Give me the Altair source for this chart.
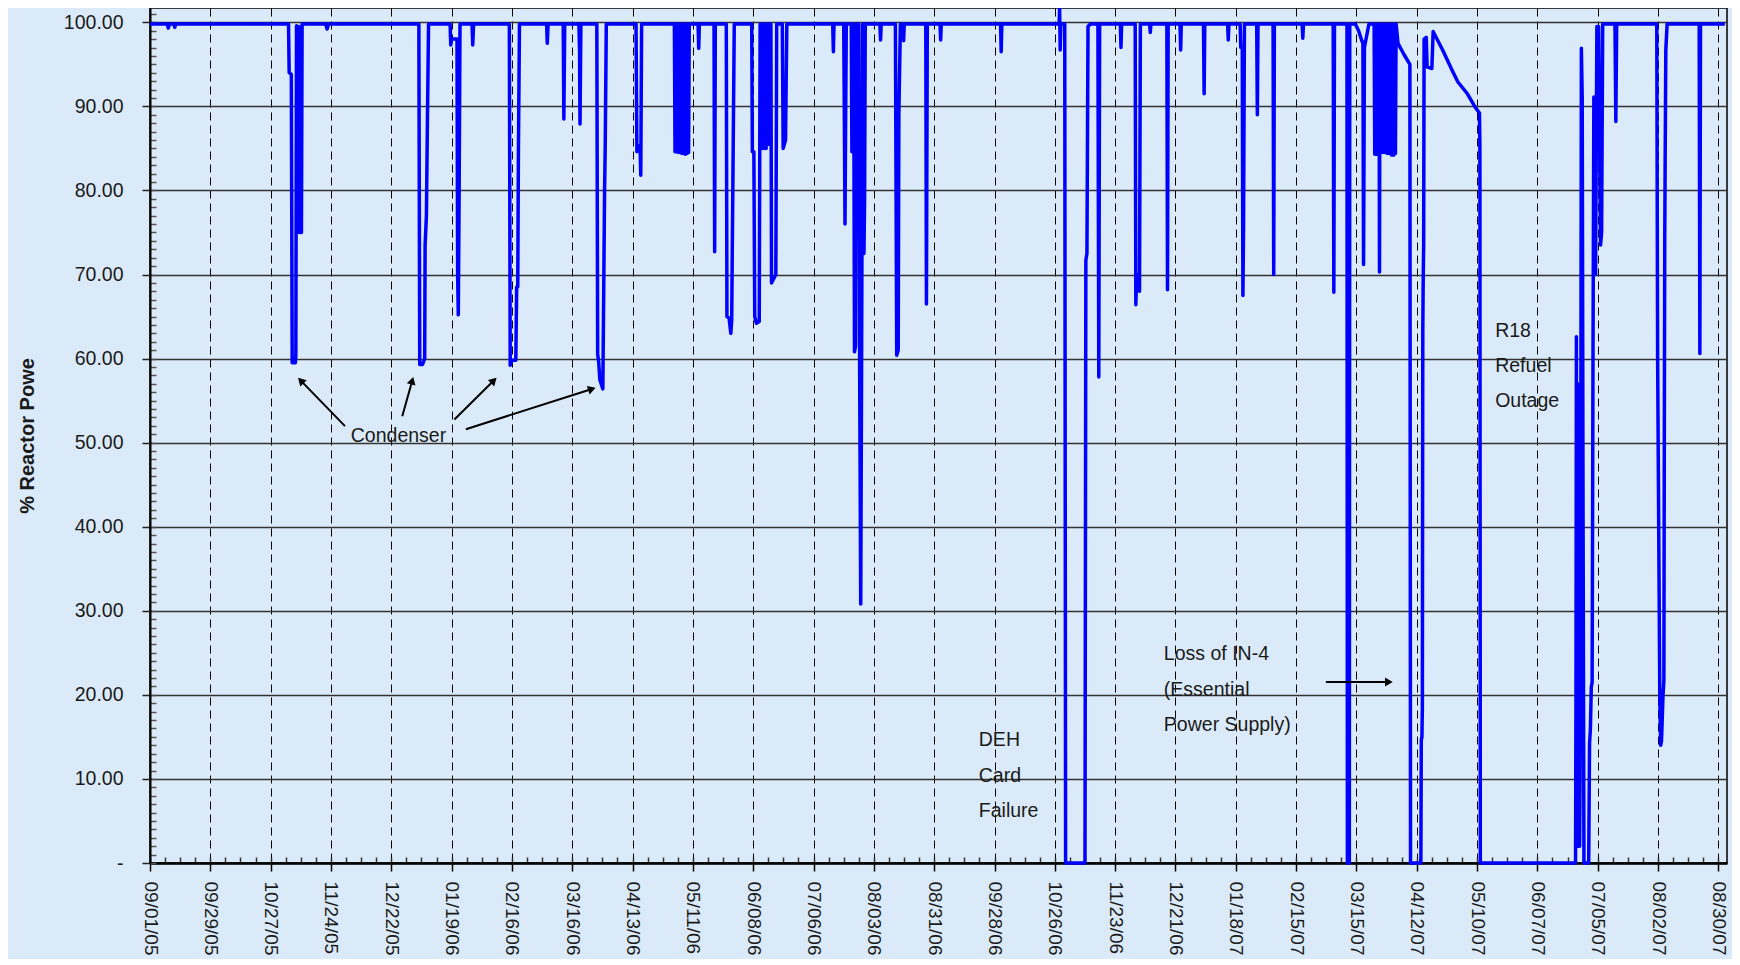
import math
import altair as alt
import pandas as pd

# ---------------- data (day offset from 09/01/05, % reactor power) ----------------
TICK_LABELS = ["09/01/05", "09/29/05", "10/27/05", "11/24/05", "12/22/05", "01/19/06",
               "02/16/06", "03/16/06", "04/13/06", "05/11/06", "06/08/06", "07/06/06",
               "08/03/06", "08/31/06", "09/28/06", "10/26/06", "11/23/06", "12/21/06",
               "01/18/07", "02/15/07", "03/15/07", "04/12/07", "05/10/07", "06/07/07",
               "07/05/07", "08/02/07", "08/30/07"]
Y_TICKS = [0, 10, 20, 30, 40, 50, 60, 70, 80, 90, 100]

SEG_2005 = [
    (0, 99.8), (8.0, 99.8), (8.5, 99.3), (9.0, 99.8), (11.0, 99.8), (11.5, 99.4), (12.0, 99.8),
    (64.3, 99.8), (64.6, 94.0), (65.6, 93.8), (66.0, 59.5), (67.5, 59.5), (67.7, 60.5),
    (68.0, 99.6), (68.5, 75.0), (69.0, 99.5), (69.5, 75.0), (70.3, 75.0), (70.6, 99.8),
    (81.6, 99.8), (82.2, 99.2), (82.9, 99.8),
    (124.8, 99.8), (125.2, 59.3), (126.5, 59.3), (127.5, 60.0), (127.7, 73.5), (128.3, 77.0),
    (128.8, 89.0), (129.3, 99.8),
]
SEG_EARLY_2006 = [
    (139.3, 99.8), (139.6, 97.3), (140.0, 98.0), (142.5, 98.0), (142.8, 70.0), (143.1, 65.2),
    (143.5, 80.0), (143.9, 99.8), (149.5, 99.8), (149.8, 97.3), (150.2, 99.8),
    (166.8, 99.8), (167.2, 59.2), (168.0, 59.8), (169.8, 59.8), (170.2, 68.5), (170.7, 68.5),
    (171.0, 84.4), (171.5, 99.8), (184.1, 99.8), (184.4, 97.5), (184.8, 99.8),
    (191.8, 99.8), (192.1, 88.5), (192.5, 99.8), (199.1, 99.8), (199.4, 96.5), (199.6, 87.9),
    (200.0, 99.8), (207.4, 99.8), (207.8, 60.5), (208.3, 59.5), (208.8, 57.5), (210.2, 56.4),
    (210.5, 65.0), (211.0, 80.0), (211.3, 85.2), (211.8, 99.8),
    (225.6, 99.8), (226.0, 84.6), (227.0, 85.3), (227.5, 85.0), (227.8, 81.8), (228.2, 99.8),
]
SEG_MID_2006 = [
    (243.4, 99.8), (243.7, 84.6), (244.1, 99.8), (244.5, 84.6), (244.9, 99.8), (245.3, 84.5),
    (245.7, 99.8), (246.1, 84.5), (246.5, 99.8), (246.9, 84.4), (247.3, 99.8), (247.7, 84.4),
    (248.1, 99.8), (248.5, 84.3), (248.9, 99.8), (249.3, 84.4), (249.7, 99.6), (250.0, 84.5),
    (250.3, 99.8), (254.4, 99.8), (254.7, 96.9), (255.0, 99.8),
    (261.8, 99.8), (262.1, 72.7), (262.4, 99.8),
    (267.5, 99.8), (267.8, 65.0), (268.8, 64.8), (269.6, 63.0), (270.0, 64.5), (271.2, 99.8),
    (279.3, 99.8), (279.6, 84.6), (280.3, 84.6), (280.7, 65.0), (281.5, 64.2), (282.8, 64.4),
    (283.2, 99.8), (283.6, 85.0), (284.0, 99.8), (284.4, 85.0), (284.8, 99.8), (285.2, 85.0),
    (285.6, 99.8), (286.0, 85.0), (286.4, 99.8), (286.8, 85.5), (287.2, 99.8), (287.8, 85.5),
    (288.2, 99.8), (288.5, 69.0), (290.5, 70.0), (290.9, 99.8),
    (293.5, 99.8), (293.9, 85.0), (295.0, 86.0), (295.6, 99.8),
    (316.9, 99.8), (317.2, 96.5), (317.5, 99.8),
    (322.0, 99.8), (322.3, 88.5), (322.6, 76.0), (322.9, 88.5), (323.2, 99.8),
    (325.5, 99.8), (325.8, 84.6), (326.2, 99.8), (326.6, 99.8), (327.0, 60.8), (327.5, 61.5),
    (327.8, 99.8), (329.0, 99.8), (329.4, 58.6), (329.9, 30.8), (330.3, 58.6), (330.8, 99.8),
    (331.0, 99.8), (331.4, 72.5), (331.7, 79.0), (332.0, 99.8),
]
SEG_LATE_2006 = [
    (338.8, 99.8), (339.1, 97.9), (339.4, 99.8),
    (346.0, 99.8), (346.6, 60.4), (347.3, 61.0), (347.6, 89.0), (348.3, 99.8),
    (349.5, 99.8), (349.8, 97.8), (350.1, 99.8),
    (360.1, 99.8), (360.4, 66.5), (360.8, 99.8), (366.7, 99.8), (367.0, 97.9), (367.3, 99.8),
    (394.8, 99.8), (395.1, 96.5), (395.4, 99.8),
    (422.0, 99.8), (422.2, 101.7), (422.5, 96.7), (422.8, 99.8),
    (424.6, 99.8), (425.0, 0.0), (434.0, 0.0), (434.4, 71.7), (434.9, 72.5), (435.4, 99.5),
    (436.5, 99.8), (440.0, 99.8), (440.4, 57.8), (440.8, 99.8),
    (450.4, 99.8), (450.7, 97.0), (451.0, 99.8),
    (457.3, 99.8), (457.6, 66.4), (458.0, 70.0), (459.3, 68.0), (459.7, 99.8),
    (464.0, 99.8), (464.3, 98.8), (464.6, 99.8), (472.0, 99.8), (472.3, 68.2), (472.6, 99.8),
    (478.1, 99.8), (478.4, 96.7), (478.7, 99.8),
]
SEG_EARLY_2007 = [
    (489.0, 99.8), (489.3, 91.5), (489.6, 99.8), (500.2, 99.8), (500.5, 97.9), (500.8, 99.8),
    (506.0, 99.8), (506.3, 97.0), (507.0, 97.0), (507.3, 67.5), (507.6, 75.7), (508.0, 99.8),
    (513.7, 99.8), (514.0, 89.0), (514.3, 99.8), (521.3, 99.8), (521.6, 70.0), (521.9, 99.8),
    (534.8, 99.8), (535.1, 98.1), (535.4, 99.8), (549.2, 99.8), (549.5, 67.9), (549.8, 99.8),
    (555.6, 99.8), (555.8, 0.0), (556.7, 0.0), (556.9, 99.8),
    (559.5, 99.8), (561.0, 99.0), (562.5, 97.8), (563.0, 97.5), (563.3, 71.2), (563.7, 97.0),
    (565.8, 99.8), (568.2, 99.8), (568.5, 84.3), (569.4, 84.3), (569.6, 99.8),
    (570.5, 99.8), (570.7, 70.3), (570.9, 99.8),
    (571.3, 84.5), (571.8, 99.8), (572.3, 84.5), (572.8, 99.8), (573.3, 84.5), (573.8, 99.8),
    (574.3, 84.4), (574.8, 99.8), (575.3, 84.4), (575.8, 99.8), (576.3, 84.2), (576.8, 99.8),
    (577.3, 84.2), (577.8, 99.8), (578.1, 84.4), (578.4, 99.8),
    (579.3, 97.5), (582.0, 96.2), (584.8, 95.0), (585.1, 0.0), (589.9, 0.0),
    (590.1, 14.6), (590.4, 15.0), (590.6, 18.5), (590.8, 63.4), (591.0, 69.7), (591.2, 73.5),
    (591.4, 98.0), (592.4, 98.2), (592.8, 94.7), (595.0, 94.5), (595.6, 98.9),
    (600.0, 96.7), (604.4, 94.3), (607.1, 92.9), (611.5, 91.5), (615.1, 89.9), (617.1, 89.2),
    (617.3, 85.2), (617.5, 0.0),
]
SEG_MID_2007 = [
    (661.7, 0.0), (661.9, 20.0), (662.1, 62.6), (662.4, 2.0), (662.7, 57.0), (663.0, 5.0),
    (663.3, 45.0), (663.6, 2.0), (664.0, 20.0), (664.4, 96.9), (664.8, 91.0), (665.2, 40.0),
    (665.6, 0.0), (667.8, 0.0), (668.2, 14.2), (668.6, 16.0), (669.0, 20.9), (669.4, 21.5),
    (669.8, 60.2), (670.2, 91.1), (670.6, 77.3), (671.0, 70.0), (671.6, 99.5), (672.4, 99.5),
    (673.3, 73.5), (673.8, 75.0), (674.3, 99.8),
    (680.0, 99.8), (680.4, 88.2), (680.8, 99.8),
    (699.4, 99.8), (699.8, 60.0), (700.3, 40.0), (700.8, 20.0), (701.2, 14.0), (701.6, 14.5),
    (702.3, 20.0), (702.7, 21.7), (702.9, 50.0), (703.1, 74.1), (703.3, 83.6), (703.6, 96.7),
    (704.2, 99.8), (719.1, 99.8), (719.4, 60.6), (719.7, 99.8), (731.0, 99.8),
]

NOTE_TEXT = ["Condenser", "DEH", "Card", "Failure", "Loss of IN-4", "(Essential",
             "Power Supply)", "R18", "Refuel", "Outage"]
NOTE_DAY = [93.2, 384.7, 384.7, 384.7, 470.6, 470.6, 470.6, 624.4, 624.4, 624.4]
NOTE_VAL = [50.1, 13.92, 9.64, 5.44, 24.2, 19.9, 15.73, 62.52, 58.39, 54.22]

ARROW_FROM_DAY = [90.5, 117.1, 141.3, 146.6, 545.8]
ARROW_FROM_VAL = [51.97, 53.14, 52.76, 51.6, 21.54]
ARROW_TO_DAY = [68.7, 122.2, 160.9, 206.9, 576.9]
ARROW_TO_VAL = [57.72, 57.83, 57.72, 56.53, 21.54]

# ---------------- layout ----------------
W, H = 1577, 855
X_MAX, Y_MAX = 732, 101.7
BG = "#dbeaf8"
FONT = "Liberation Sans, Arial, sans-serif"
FS = 19.5

points = SEG_2005 + SEG_EARLY_2006 + SEG_MID_2006 + SEG_LATE_2006 + SEG_EARLY_2007 + SEG_MID_2007
df = pd.DataFrame({"day": [p[0] for p in points], "power": [p[1] for p in points],
                   "idx": list(range(len(points)))})

tick_days = [28 * i for i in range(len(TICK_LABELS))]
minor_x = list(range(0, X_MAX + 1, 7))
minor_y = list(range(0, 102))

x_scale = alt.Scale(domain=[0, X_MAX], nice=False, zero=False)
y_scale = alt.Scale(domain=[0, Y_MAX], nice=False, zero=False)

label_arr = "[" + ",".join("'" + s + "'" for s in TICK_LABELS) + "]"
x_axis_main = alt.Axis(
    values=tick_days, labelExpr=label_arr + "[round(datum.value/28)]",
    labelAngle=90, labelAlign="left", labelBaseline="middle", labelPadding=10,
    labelFlush=False, labelOverlap=False, labelBound=False,
    labelFont=FONT, labelFontSize=19, labelColor="#1a1a1a",
    tickSize=8, tickWidth=1.5, tickColor="black",
    domainColor="black", domainWidth=2.5,
    grid=True, gridColor="black", gridWidth=1, gridDash=[8, 5],
    title=None,
)
nb = "\u00a0"
y_axis_main = alt.Axis(
    values=Y_TICKS,
    labelExpr="datum.value == 0 ? '-" + nb * 4 + "' : format(datum.value, '.2f')",
    labelPadding=19, labelFont=FONT, labelFontSize=FS, labelColor="#1a1a1a",
    labelFlush=False, labelOverlap=False,
    tickSize=8, tickWidth=1.5, tickColor="#222",
    domainColor="black", domainWidth=2,
    grid=True, gridColor="#333", gridWidth=1.3,
    title="% Reactor Powe", titleFont=FONT, titleFontSize=20,
    titleFontWeight="bold", titleColor="#1a1a1a", titleAngle=270,
    titleX=-117, titleY=H / 2, titleAlign="center", titleBaseline="alphabetic",
)
x_axis_minor = alt.Axis(orient="top", offset=-H, values=minor_x, labels=False, domain=False,
                        grid=False, tickSize=6, tickWidth=1.5, tickColor="#333", title=None)
y_axis_minor = alt.Axis(orient="right", offset=-W, values=minor_y, labels=False, domain=False,
                        grid=False, tickSize=6, tickWidth=1.5, tickColor="#555", title=None)

line = alt.Chart(df).mark_line(color="#0000ff", strokeWidth=3.5, strokeJoin="round").encode(
    x=alt.X("day:Q", scale=x_scale, axis=x_axis_main),
    y=alt.Y("power:Q", scale=y_scale, axis=y_axis_main),
    order="idx:Q",
)
minor = alt.Chart(df).mark_point(opacity=0).encode(
    x=alt.X("day:Q", scale=x_scale, axis=x_axis_minor),
    y=alt.Y("power:Q", scale=y_scale, axis=y_axis_minor),
)

notes = pd.DataFrame({"day": NOTE_DAY, "val": NOTE_VAL, "text": NOTE_TEXT})
texts = alt.Chart(notes).mark_text(align="left", baseline="alphabetic", font=FONT,
                                   fontSize=FS, color="#1a1a1a").encode(
    x=alt.X("day:Q", scale=x_scale, axis=None),
    y=alt.Y("val:Q", scale=y_scale, axis=None),
    text="text:N",
)

# arrow heads: rotate toward the direction of travel (screen coordinates)
sx, sy = W / X_MAX, H / Y_MAX
ang, hx, hy = [], [], []
for x0, y0, x1, y1 in zip(ARROW_FROM_DAY, ARROW_FROM_VAL, ARROW_TO_DAY, ARROW_TO_VAL):
    dx, dy = (x1 - x0) * sx, -(y1 - y0) * sy
    L = math.hypot(dx, dy)
    ang.append(math.degrees(math.atan2(dx, -dy)) % 360)
    back = 4.0
    hx.append(x1 - dx / L * back / sx)
    hy.append(y1 + dy / L * back / sy)
arrows = pd.DataFrame({"x0": ARROW_FROM_DAY, "y0": ARROW_FROM_VAL, "x1": hx, "y1": hy,
                       "ang": ang})
rules = alt.Chart(arrows).mark_rule(color="black", strokeWidth=2).encode(
    x=alt.X("x0:Q", scale=x_scale, axis=None), y=alt.Y("y0:Q", scale=y_scale, axis=None),
    x2="x1:Q", y2="y1:Q",
)
heads = alt.Chart(arrows).mark_point(shape="triangle-up", filled=True, size=80, color="black",
                                     opacity=1).encode(
    x=alt.X("x1:Q", scale=x_scale, axis=None), y=alt.Y("y1:Q", scale=y_scale, axis=None),
    angle=alt.Angle("ang:Q", scale=None),
)

chart = alt.layer(minor, line, rules, heads, texts).resolve_axis(
    x="independent", y="independent"
).properties(
    width=W, height=H, background=BG,
    padding={"left": 142, "top": 0, "right": 5, "bottom": 96},
    autosize=alt.AutoSizeParams(type="none"),
).configure_view(stroke="black", strokeWidth=1.5)

chart.save("out.html", embed_options={"renderer": "svg", "actions": False})
